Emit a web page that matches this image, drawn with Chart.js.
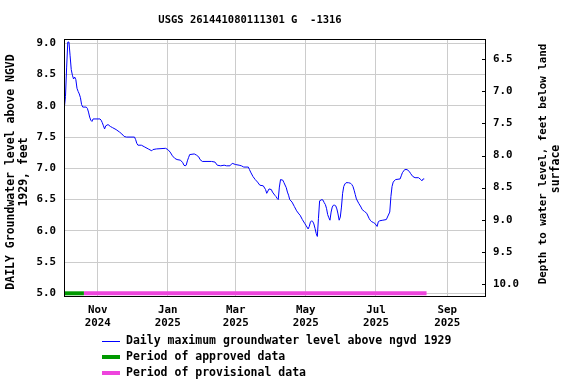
<!DOCTYPE html>
<html>
<head>
<meta charset="utf-8">
<script src="https://cdn.jsdelivr.net/npm/chart.js@4.4.1/dist/chart.umd.min.js"></script>
<style>
html, body { margin: 0; padding: 0; background: #fff; }
canvas { display: block; }
</style>
</head>
<body>
<canvas id="c" width="576" height="384"></canvas>
<script>
// x values: days since 2024-10-01
const days = [2, 3, 4, 5, 6, 7, 8, 9, 10, 11, 12, 13, 14, 15, 16, 17, 18, 21, 22, 23,
  24, 25, 26, 27, 33, 34, 35, 36, 37, 38, 40, 42, 44, 47, 50, 52, 54, 56, 63, 64,
  65, 66, 69, 72, 75, 78, 79, 82, 90, 92, 94, 96, 98, 100, 103, 105, 106, 107, 108, 109,
  110, 111, 115, 117, 119, 120, 122, 130, 133, 135, 138, 141, 143, 146, 148, 151, 154, 156, 158, 162,
  163, 164, 166, 168, 170, 172, 175, 177, 178, 180, 182, 183, 185, 186, 187, 188, 189, 190, 192, 193,
  195, 196, 197, 198, 200, 202, 204, 206, 207, 209, 211, 212, 214, 215, 216, 217, 218, 219, 220, 221,
  222, 223, 224, 226, 227, 228, 229, 230, 231, 232, 233, 234, 235, 236, 237, 238, 239, 240, 241, 242,
  243, 244, 245, 246, 247, 249, 251, 252, 253, 254, 255, 256, 258, 260, 261, 263, 265, 267, 268, 269,
  271, 272, 274, 275, 276, 279, 282, 285, 286, 287, 288, 290, 294, 295, 296, 298, 300, 302, 303, 305,
  307, 310, 312, 313, 314, 315];
const levels = [7.97, 8.15, 8.62, 9.02, 9.02, 8.80, 8.58, 8.49, 8.43, 8.46, 8.42, 8.28, 8.23, 8.19, 8.13, 8.02, 7.98, 7.98, 7.96, 7.90,
  7.82, 7.77, 7.75, 7.79, 7.79, 7.77, 7.73, 7.68, 7.63, 7.68, 7.70, 7.67, 7.65, 7.62, 7.58, 7.55, 7.51, 7.50, 7.50, 7.46,
  7.40, 7.37, 7.37, 7.34, 7.31, 7.28, 7.30, 7.31, 7.32, 7.30, 7.26, 7.20, 7.16, 7.14, 7.13, 7.09, 7.05, 7.04, 7.05, 7.12,
  7.17, 7.22, 7.23, 7.21, 7.18, 7.14, 7.11, 7.11, 7.10, 7.05, 7.04, 7.05, 7.04, 7.04, 7.08, 7.06, 7.05, 7.04, 7.02, 7.02,
  6.98, 6.94, 6.87, 6.82, 6.78, 6.73, 6.72, 6.66, 6.60, 6.67, 6.66, 6.62, 6.57, 6.55, 6.52, 6.50, 6.70, 6.82, 6.81, 6.77,
  6.69, 6.62, 6.57, 6.50, 6.46, 6.39, 6.32, 6.27, 6.25, 6.18, 6.12, 6.09, 6.03, 6.07, 6.14, 6.16, 6.15, 6.11, 6.04, 5.96,
  5.91, 6.20, 6.48, 6.50, 6.49, 6.45, 6.42, 6.36, 6.26, 6.21, 6.17, 6.30, 6.38, 6.41, 6.41, 6.40, 6.35, 6.27, 6.17, 6.22,
  6.38, 6.60, 6.71, 6.75, 6.77, 6.77, 6.76, 6.74, 6.71, 6.65, 6.58, 6.51, 6.44, 6.38, 6.34, 6.31, 6.28, 6.20, 6.17, 6.15,
  6.13, 6.12, 6.07, 6.14, 6.16, 6.17, 6.18, 6.30, 6.55, 6.71, 6.78, 6.82, 6.83, 6.88, 6.93, 6.98, 6.98, 6.95, 6.92, 6.87,
  6.85, 6.85, 6.82, 6.80, 6.83, 6.83];

const approvedDays = [1, 19];
const provisionalDays = [19, 317];
const periodLevel = 5.0;

const monthTicks = [31, 92, 151, 212, 273, 335];
const monthLabels = [['Nov', '2024'], ['Jan', '2025'], ['Mar', '2025'], ['May', '2025'], ['Jul', '2025'], ['Sep', '2025']];

const titleText = 'USGS 261441080111301 G  -1316';
const leftTitle = ['DAILY Groundwater level above NGVD', '1929, feet'];
const rightTitle = ['Depth to water level, feet below land', 'surface'];
const legendLabels = ['Daily maximum groundwater level above ngvd 1929', 'Period of approved data', 'Period of provisional data'];
const legendColors = ['#0000ff', '#009900', '#ee44dd'];

const FONT = 'DejaVu Sans Mono';
Chart.defaults.font.family = FONT;
Chart.defaults.font.weight = 'bold';
Chart.defaults.color = '#000';

const extras = {
  id: 'extras',
  afterDraw(chart) {
    const { ctx, chartArea: a } = chart;
    ctx.save();
    // frame
    ctx.strokeStyle = '#000';
    ctx.lineWidth = 1;
    ctx.strokeRect(a.left + 0.5, a.top + 0.5, a.right - a.left - 1, a.bottom - a.top);
    // inward ticks on right axis
    const y2 = chart.scales.y2;
    y2.ticks.forEach(t => {
      const y = Math.round(y2.getPixelForValue(t.value)) + 0.5;
      ctx.beginPath();
      ctx.moveTo(a.right - 4, y);
      ctx.lineTo(a.right, y);
      ctx.stroke();
    });
    ctx.fillStyle = '#000';
    ctx.textBaseline = 'middle';
    // title
    ctx.font = 'bold 10.5px "' + FONT + '"';
    ctx.textAlign = 'center';
    ctx.fillText(titleText, 250, 20);
    // axis titles
    ctx.font = 'bold 11.5px "' + FONT + '"';
    ctx.save();
    ctx.translate(11, 172);
    ctx.rotate(-Math.PI / 2);
    ctx.fillText(leftTitle[0], 0, 0);
    ctx.fillText(leftTitle[1], 0, 13);
    ctx.restore();
    ctx.save();
    ctx.translate(543, 164);
    ctx.rotate(-Math.PI / 2);
    ctx.font = 'bold 10.8px "' + FONT + '"';
    ctx.fillText(rightTitle[0], 0, 0);
    ctx.font = 'bold 11.5px "' + FONT + '"';
    ctx.fillText(rightTitle[1], -5, 13);
    ctx.restore();
    // legend
    ctx.textAlign = 'left';
    ctx.font = 'bold 11.5px "' + FONT + '"';
    legendLabels.forEach((lab, i) => {
      const y = 341 + i * 16;
      ctx.strokeStyle = legendColors[i];
      ctx.lineWidth = i === 0 ? 1 : 4;
      ctx.beginPath();
      ctx.moveTo(102, i === 0 ? y + 0.5 : y);
      ctx.lineTo(120, i === 0 ? y + 0.5 : y);
      ctx.stroke();
      ctx.fillText(lab, 126, y);
    });
    ctx.restore();
  }
};

new Chart(document.getElementById('c'), {
  type: 'line',
  data: {
    datasets: [
      {
        data: days.map((d, i) => ({ x: d, y: levels[i] })),
        borderColor: '#0000ff',
        borderWidth: 1,
        pointRadius: 0,
        tension: 0
      },
      {
        data: approvedDays.map(d => ({ x: d, y: periodLevel })),
        borderColor: '#009900',
        borderWidth: 4,
        pointRadius: 0,
        borderCapStyle: 'butt'
      },
      {
        data: provisionalDays.map(d => ({ x: d, y: periodLevel })),
        borderColor: '#ee44dd',
        borderWidth: 4,
        pointRadius: 0,
        borderCapStyle: 'butt'
      }
    ]
  },
  options: {
    responsive: false,
    animation: false,
    layout: { padding: { top: 39, left: 0, right: 0, bottom: 0 } },
    plugins: { legend: { display: false }, title: { display: false }, tooltip: { enabled: false } },
    scales: {
      x: {
        type: 'linear',
        min: 1.7,
        max: 368.7,
        afterBuildTicks: s => { s.ticks = monthTicks.map(v => ({ value: v })); },
        afterFit: s => { s.height = 88; },
        ticks: {
          autoSkip: false,
          maxRotation: 0,
          padding: 8,
          font: { size: 10.8, lineHeight: 1.18 },
          callback: v => monthLabels[monthTicks.indexOf(v)]
        },
        grid: { color: '#cccccc', drawTicks: false },
        border: { display: false }
      },
      y: {
        position: 'left',
        min: 4.957,
        max: 9.069,
        afterFit: s => { s.width = 64; },
        ticks: {
          stepSize: 0.5,
          includeBounds: false,
          padding: 8,
          font: { size: 10.8 },
          callback: v => v.toFixed(1)
        },
        grid: { color: '#cccccc', drawTicks: false },
        border: { display: false }
      },
      y2: {
        position: 'right',
        reverse: true,
        min: 6.184,
        max: 10.187,
        afterFit: s => { s.width = 90; },
        ticks: {
          stepSize: 0.5,
          includeBounds: false,
          padding: 7,
          font: { size: 10.8 },
          callback: v => v.toFixed(1)
        },
        grid: { drawOnChartArea: false, drawTicks: false },
        border: { display: false }
      }
    }
  },
  plugins: [extras]
});
</script>
</body>
</html>
